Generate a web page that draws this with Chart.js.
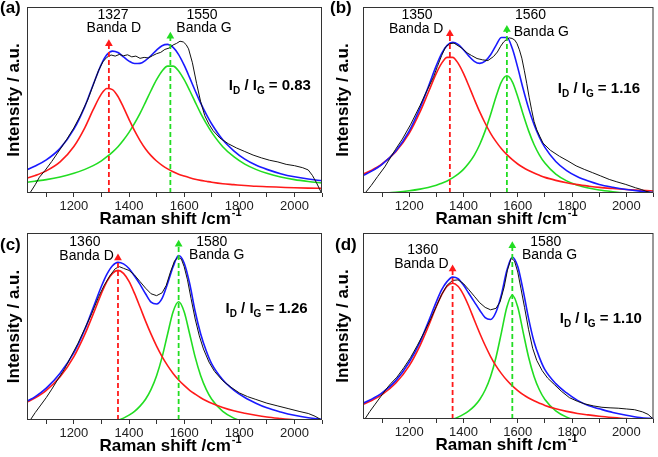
<!DOCTYPE html>
<html><head><meta charset="utf-8">
<script src="https://cdn.jsdelivr.net/npm/chart.js@4.4.1/dist/chart.umd.min.js"></script>
<style>
html,body{margin:0;padding:0;background:#fff;overflow:hidden;width:658px;height:457px;position:relative;}
canvas{position:absolute;}
</style></head><body>
<canvas id="pa"></canvas><canvas id="pb"></canvas><canvas id="pc"></canvas><canvas id="pd"></canvas>
<script>
// ---------- data ----------
const ramanShift = [1030,1060,1100,1150,1200,1240,1270,1300,1320,1340,1360,1380,1400,1420,1440,1460,1480,1500,1520,1540,1560,1580,1600,1620,1640,1660,1680,1700,1740,1780,1820,1860,1900,1950,2000,2050,2100];
const tickLabels = [1200,1400,1600,1800,2000];
const panelLetters = ['(a)','(b)','(c)','(d)'];
const ratioValues = ['0.83','1.16','1.26','1.10'];
const dBandPos = [1327,1350,1360,1360];
const gBandPos = [1550,1560,1580,1580];
const dArrowTop = [82.6,88,89,83];
const gArrowTop = [86.7,90.3,96.4,95.5];

// panel (a)
const aRed   = [8.0,9.4,11.9,16.7,25.0,35.2,44.8,53.3,56.2,55.6,51.9,46.0,39.6,33.5,28.2,23.7,20.1,17.2,14.9,13.0,11.4,10.1,9.1,8.2,7.4,6.8,6.3,5.8,5.0,4.5,4.0,3.6,3.4,3.1,2.8,2.6,2.5];
const aGreen = [5.8,6.4,7.2,8.6,10.6,12.7,14.7,17.3,19.5,22.0,24.9,28.5,32.6,37.4,42.8,48.9,55.1,60.9,65.6,68.2,68.2,65.6,60.9,55.1,48.9,42.8,37.4,32.6,24.9,19.5,15.5,12.7,10.6,8.6,7.2,6.2,5.4];
const aBlue  = [12.5,14.5,17.8,24.0,34.3,46.6,58.2,69.3,74.4,76.3,75.5,73.2,70.9,69.6,69.7,71.3,73.9,76.8,79.2,79.9,78.3,74.4,68.7,62.0,55.0,48.3,42.4,37.1,28.6,22.7,18.2,15.0,12.7,10.4,8.7,7.5,6.6];
const aExpX  = [1042,1060,1075,1095,1120,1150,1175,1200,1225,1250,1270,1290,1305,1320,1335,1350,1365,1380,1395,1410,1425,1440,1455,1470,1485,1500,1515,1530,1545,1560,1572,1585,1597,1607,1616,1630,1645,1660,1675,1690,1705,1730,1760,1790,1820,1850,1880,1910,1940,1970,2000,2030,2050,2065,2080,2090,2098];
const aExpY  = [0.3,4.5,8.5,12,17,23.5,29,35,42,50,58,66,70.5,73,74.2,73.6,74.5,73.8,74.3,73.2,73.6,72.4,72.9,72.6,73.8,74.9,75.6,77.2,77.9,79.6,80.4,81.6,81.2,79.8,77.5,70,59,49,41.5,37,33.5,29.5,26.5,24.2,22.3,20.4,18.9,17.6,16.7,15.4,14.7,13.6,12.4,9.5,5.5,2.5,0];

// panel (b)
const bRed   = [10.1,12.1,15.6,22.1,32.1,43.6,53.9,64.3,69.8,72.9,72.9,69.8,64.3,57.5,50.4,43.6,37.5,32.1,27.6,23.8,20.6,17.9,15.6,13.7,12.1,10.7,9.5,8.4,6.8,5.5,4.5,3.7,3.0,2.4,1.9,1.5,1.1];
const bGreen = [-0.7,-0.5,-0.2,0.4,1.2,2.1,3.0,4.2,5.3,6.5,8.1,10.1,12.7,16.1,20.4,26.1,33.4,42.2,51.8,59.8,63.0,59.8,51.8,42.2,33.4,26.1,20.4,16.1,10.1,6.5,4.2,2.7,1.6,0.7,0.0,-0.5,-0.8];
const bBlue  = [9.4,11.6,15.4,22.5,33.3,45.7,56.9,68.5,75.1,79.4,81.0,79.9,77.0,73.6,70.8,69.7,70.9,74.3,79.4,83.6,83.6,77.7,67.4,55.9,45.5,36.8,29.9,24.5,16.9,12.0,8.7,6.4,4.6,3.1,1.9,1.0,0.3];
const bExpX  = [1038,1060,1084,1110,1133,1150,1175,1206,1240,1267,1290,1304,1320,1334,1350,1365,1380,1395,1413,1430,1450,1470,1490,1511,1525,1537,1548,1559,1569,1579,1589,1597,1606,1615,1624,1633,1642,1651,1660,1670,1681,1693,1720,1754,1785,1815,1845,1876,1905,1937,1965,1998,2034,2055,2071,2085,2095];
const bExpY  = [0,4,8.9,14,19.5,23.5,29,37,47,55.5,62.5,68,74,78.5,80.3,80.6,79.2,77.8,75.4,73.9,72.3,71.6,71.2,73.4,75.8,78.9,81.2,82.6,83.4,83.1,82.2,80.4,77,72.5,66,59,51.5,44.7,38.5,34,30.5,26.8,23,19.7,17.2,14.6,12.7,10.9,9.2,7.3,6,4.6,2.8,1.9,1,0.4,0];

// panel (c)
const cRed   = [9.6,11.9,15.9,23.1,33.9,45.9,56.6,67.7,74.1,78.4,80.0,78.4,74.1,67.7,60.4,52.9,45.9,39.5,33.9,29.1,24.9,21.4,18.5,15.9,13.8,11.9,10.3,8.9,6.7,4.9,3.6,2.5,1.6,0.8,0.1,-0.4,-0.9];
const cGreen = [-2,-2,-2,-2,-2,-2,-2,-2,-2,-1.1,-0.2,1.0,2.6,4.6,7.4,11.1,16.4,23.7,33.6,46.0,57.9,63.2,57.9,46.0,33.6,23.7,16.4,11.1,4.6,1.0,-1.1,-2,-2,-2,-2,-2,-2];
const cBlue  = [10,12.5,17,25,36,48.5,60,71.5,78,82.5,84.3,83.5,81,77,72.5,67.5,63,62,65,73,82,88,84,73,58,46,37,30,21.5,16,12,9,6.5,4.3,2.5,1.2,0.3];
const cExpX  = [1042,1060,1080,1100,1120,1143,1165,1190,1215,1240,1265,1290,1310,1330,1350,1365,1380,1400,1420,1440,1460,1480,1500,1520,1535,1550,1565,1578,1590,1600,1612,1625,1640,1655,1670,1690,1710,1740,1770,1800,1830,1860,1900,1940,1980,2020,2050,2075,2095];
const cExpY  = [0,4,8,12,16.5,22,27,34,41,49,57,66,72,77,80.9,82,81.1,80,77.5,74,70.5,67.5,66.5,68,72,79,85,87,86,82,75,65,54,45,38,31,26,21,17.5,14.5,12.5,11,9,7.5,6,4.5,3.5,2,0.3];

// panel (d)
const dRed   = [7.9,9.8,13.1,19.2,28.6,39.5,49.6,60.5,66.9,71.4,73.0,71.4,66.9,60.5,53.2,46.1,39.5,33.6,28.6,24.4,20.8,17.8,15.3,13.1,11.3,9.8,8.5,7.3,5.5,4.1,3.0,2.2,1.5,0.8,0.2,-0.2,-0.6];
const dGreen = [-2,-2,-2,-2,-2,-2,-2,-2,-2,-1.0,-0.1,1.0,2.5,4.4,6.9,10.5,15.6,22.9,33.2,46.6,60.2,66.5,60.2,46.6,33.2,22.9,15.6,10.5,4.4,1.0,-1.0,-2,-2,-2,-2,-2,-2];
const dBlue  = [8.5,10.5,14,20.5,30.5,41.5,52,63,69.5,74,76.3,75.5,72,67.5,63,58.5,54.5,53.5,57.5,67,80,87,82,69,54,41.5,33,26.5,19,14,10,7.2,5.5,3.5,2,0.8,0.2];
const dExpX  = [1037,1055,1075,1095,1115,1132,1155,1180,1205,1230,1255,1280,1300,1320,1340,1360,1380,1400,1420,1440,1460,1480,1500,1520,1535,1550,1562,1576,1588,1600,1612,1625,1640,1655,1670,1690,1710,1735,1760,1790,1820,1850,1880,1910,1940,1970,2000,2030,2060,2080,2099];
const dExpY  = [0,4,8,12,16,19,22.5,27.5,33,39.5,46.5,54,60.5,67,72,74.5,74.8,72.8,69.5,66,62.5,60,58.7,59.5,63,71,80,86.5,85,79,70,60,48,38,31.5,26,22,18.5,15,11.5,9.5,8,7,6.3,6,5.8,5.4,5,3.8,2.5,0];

// ---------- layout / style ----------
const FONT = "'Liberation Sans', Arial, sans-serif";
const COL = {red:'#ff1a1a', green:'#22dd22', blue:'#1a1aff', black:'#111'};
const boxes = [
  {left:0,  top:0,   W:329, H:228, L:27, T:7, R:322, B:193},
  {left:329,top:0,   W:329, H:228, L:34, T:7, R:329, B:193},
  {left:0,  top:228, W:329, H:229, L:27, T:5, R:322, B:192},
  {left:329,top:228, W:329, H:229, L:34, T:5, R:329, B:191}
];
// text anchors in data units [x, y]
const labelAnchors = [
  {dNum:[1342,95.7], dName:[1345,88.7], gNum:[1665,95.7], gName:[1672,88.7], ratio:[1911,58]},
  {dNum:[1229,95.7], dName:[1226,88],   gNum:[1647,95.7], gName:[1687,86.7], ratio:[1899,56.3]},
  {dNum:[1240,95.2], dName:[1246,87.5], gNum:[1700,95.2], gName:[1718,88],   ratio:[1899,59.9]},
  {dNum:[1250,90.7], dName:[1245,83],   gNum:[1703,95.2], gName:[1717,88],   ratio:[1906,54.3]}
];
const letterPos = [[0,8],[1,8.5],[0,17.5],[6,17]];

const panels = [
  {red:aRed, green:aGreen, blue:aBlue, ex:aExpX, ey:aExpY},
  {red:bRed, green:bGreen, blue:bBlue, ex:bExpX, ey:bExpY},
  {red:cRed, green:cGreen, blue:cBlue, ex:cExpX, ey:cExpY},
  {red:dRed, green:dGreen, blue:dBlue, ex:dExpX, ey:dExpY}
];

const pts = (xs, ys) => xs.map((x, i) => ({x, y: ys[i]}));

const decoPlugin = {
  id: 'deco',
  afterDraw(chart) {
    const o = chart.options.plugins.deco;
    const {ctx, chartArea: a, scales: {x, y}} = chart;
    ctx.save();
    ctx.strokeStyle = '#333'; ctx.lineWidth = 1;
    ctx.strokeRect(a.left + 0.5, a.top + 0.5, a.right - a.left - 1, a.bottom - a.top - 1);
    ctx.fillStyle = '#000'; ctx.textBaseline = 'alphabetic'; ctx.textAlign = 'left';
    const main = 'Raman shift /cm', sup = '-1';
    ctx.font = 'bold 17px ' + FONT; const w1 = ctx.measureText(main).width;
    ctx.font = 'bold 11px ' + FONT; const w2 = ctx.measureText(sup).width;
    const cx = a.left + 143, base = a.bottom + 31;
    let sx = cx - (w1 + w2) / 2;
    ctx.font = 'bold 17px ' + FONT; ctx.fillText(main, sx, base);
    ctx.font = 'bold 11px ' + FONT; ctx.fillText(sup, sx + w1 + 1, base - 8);
    ctx.textAlign = 'center'; ctx.textBaseline = 'middle'; ctx.font = '14px ' + FONT;
    const an = o.anchors;
    const put = (t, p) => ctx.fillText(t, x.getPixelForValue(p[0]), y.getPixelForValue(p[1]));
    put(String(o.dPos), an.dNum); put('Banda D', an.dName);
    put(String(o.gPos), an.gNum); put('Banda G', an.gName);
    const parts = [['I','b15',0],['D','b10',4],[' / I','b15',0],['G','b10',4],[' = ' + o.ratio,'b15',0]];
    const fnt = k => 'bold ' + (k === 'b15' ? 15 : 10) + 'px ' + FONT;
    let tw = 0; parts.forEach(p => { ctx.font = fnt(p[1]); tw += ctx.measureText(p[0]).width; });
    let rx = x.getPixelForValue(an.ratio[0]) - tw / 2; const ry = y.getPixelForValue(an.ratio[1]) + 5;
    ctx.textAlign = 'left'; ctx.textBaseline = 'alphabetic';
    parts.forEach(p => { ctx.font = fnt(p[1]); ctx.fillText(p[0], rx, ry + p[2]); rx += ctx.measureText(p[0]).width; });
    ctx.font = 'bold 17px ' + FONT; ctx.textBaseline = 'middle';
    ctx.fillText(o.letter, o.letterPos[0], o.letterPos[1]);
    ctx.restore();
  }
};

panels.forEach((p, i) => {
  const bx = boxes[i];
  const cv = document.getElementById(['pa','pb','pc','pd'][i]);
  cv.width = bx.W; cv.height = bx.H;
  cv.style.left = bx.left + 'px'; cv.style.top = bx.top + 'px';
  cv.style.width = bx.W + 'px'; cv.style.height = bx.H + 'px';
  const curve = (data, color, order) => ({data: pts(ramanShift, data), borderColor: color, borderWidth: 1.6,
    pointRadius: 0, cubicInterpolationMode: 'monotone', fill: false, order});
  const arrow = (pos, top, color) => ({data: [{x: pos, y: 0}, {x: pos, y: top - 2.4}], borderColor: color,
    borderWidth: 1.8, borderDash: [5, 3], pointRadius: [0, 4.5], pointStyle: 'triangle',
    pointBackgroundColor: color, pointBorderWidth: 0, tension: 0, order: 0, clip: false});
  new Chart(cv, {
    type: 'line',
    data: {datasets: [
      curve(p.green, COL.green, 4),
      curve(p.red, COL.red, 3),
      curve(p.blue, COL.blue, 2),
      {data: pts(p.ex, p.ey), borderColor: COL.black, borderWidth: 1, pointRadius: 0, tension: 0, order: 1},
      arrow(dBandPos[i], dArrowTop[i], COL.red),
      arrow(gBandPos[i], gArrowTop[i], COL.green)
    ]},
    options: {
      responsive: false, animation: false, devicePixelRatio: 1,
      layout: {padding: {left: 0, top: bx.T, right: bx.W - bx.R, bottom: 0}},
      plugins: {legend: {display: false}, tooltip: {enabled: false},
        deco: {anchors: labelAnchors[i], dPos: dBandPos[i], gPos: gBandPos[i], ratio: ratioValues[i],
               letter: panelLetters[i], letterPos: letterPos[i]}},
      scales: {
        x: {type: 'linear', min: 1030, max: 2100,
            afterFit: s => { s.height = bx.H - bx.B; },
            border: {display: false},
            grid: {display: true, drawOnChartArea: false, tickLength: 4, color: '#333', tickColor: '#333'},
            ticks: {stepSize: 100, includeBounds: false, autoSkip: false, maxRotation: 0, padding: 2,
                    color: '#222', font: {family: FONT, size: 13},
                    callback: v => tickLabels.includes(v) ? String(v) : ''}},
        y: {min: 0, max: 100,
            afterFit: s => { s.width = bx.L; },
            border: {display: false}, grid: {display: false}, ticks: {display: false},
            title: {display: true, text: 'Intensity / a.u.', color: '#000',
                    font: {family: FONT, size: 17, weight: 'bold'}, padding: {top: 4, bottom: 0}}}
      }
    },
    plugins: [decoPlugin]
  });
});
</script>
</body></html>
